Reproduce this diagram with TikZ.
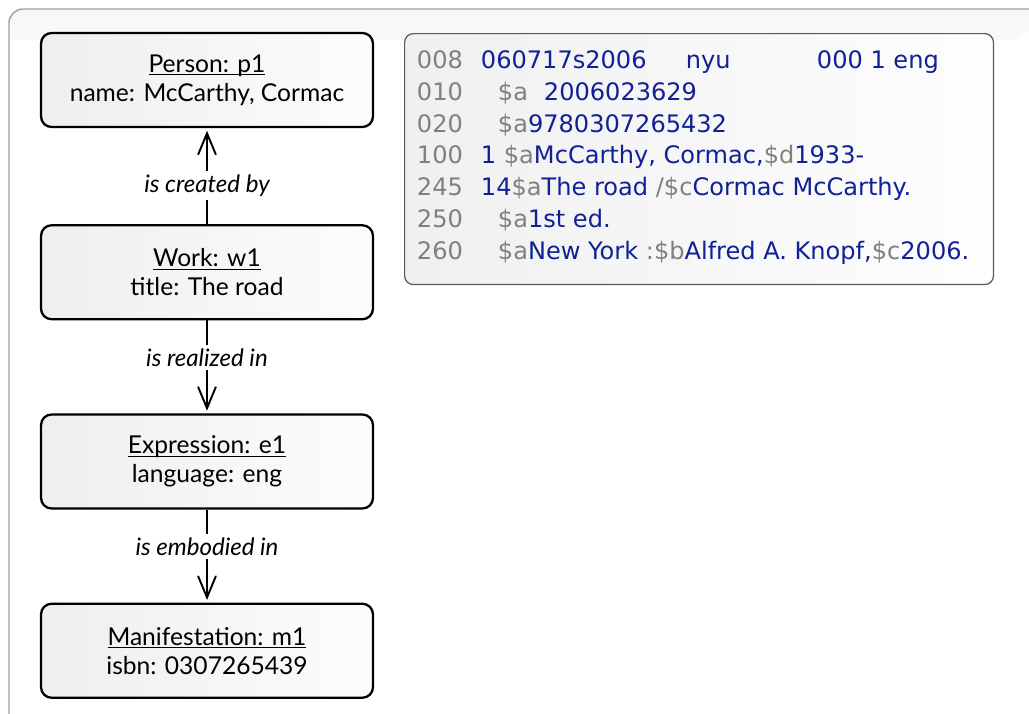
\documentclass[tikz,border=0pt]{standalone}
\usepackage{fontspec}
\setmainfont{Lato}
\newfontfamily\marcfont{DejaVu Sans}
\usetikzlibrary{shapes}
\usetikzlibrary{arrows.meta}
\usetikzlibrary{positioning}
\definecolor{marcblue}{RGB}{16,32,150}
\definecolor{marcgray}{RGB}{128,128,128}
\tikzset{
	frbr/.style = {rectangle, rounded corners=6pt, draw=black, line width=1.3pt,
		left color=gray!13, right color=gray!2, align=center,
		minimum width=6.64cm, minimum height=1.88cm, inner sep=0pt,
		font=\fontsize{14}{16.5}\selectfont},% entite FRBR
	rel/.style = {fill=white, inner sep=2pt, pos=0.4,
		font=\fontsize{13.7}{16}\selectfont\itshape},% relation
	tag/.style = {anchor=base west, inner sep=0pt, text=marcgray,
		font=\marcfont\fontsize{13.7}{16}\selectfont},% zone MARC
	val/.style = {anchor=base west, inner sep=0pt, text=marcblue,
		font=\marcfont\fontsize{13.7}{16}\selectfont}% donnees MARC
}
\newcommand{\subf}[1]{\textcolor{marcgray}{#1}}
\newcommand{\ul}[1]{\underline{\raisebox{0pt}[\height][0pt]{#1}}}

\begin{document}
\begin{tikzpicture}[x=0.02cm, y=-0.02cm, ->,
		>={Straight Barb[length=12pt, width=10pt, line cap=round]}, line width=1.1pt]
	\useasboundingbox (0,0) rectangle (1029,714);
	\clip (0,0) rectangle (1029,714);
	% cadre exterieur
	\draw[-, gray!75, line width=0.8pt, rounded corners=8pt,
		top color=gray!6, bottom color=white, middle color=white]
		(9,740) -- (9,9) -- (1060,9);
	\fill[white] (10,40) rectangle (1029,714);

	% chaine des entites
	\node[frbr] (person) at (207,80)
		{\ul{Person: p1}\\ name: McCarthy, Cormac};
	\node[frbr, below=1.92cm of person] (work)
		{\ul{Work: w1}\\ title: The road};
	\node[frbr, below=1.86cm of work] (expr)
		{\ul{Expression: e1}\\ language: eng};
	\node[frbr, below=1.86cm of expr] (manif)
		{\ul{Manifestation: m1}\\ isbn: 0307265439};

	\draw[shorten >=1.5pt] (work) -- node[rel] {is created by} (person);
	\draw[shorten >=1.5pt] (work) -- node[rel] {is realized in} (expr);
	\draw[shorten >=1.5pt] (expr) -- node[rel] {is embodied in} (manif);

	% notice MARC
	\node[draw=gray!70!black, line width=0.7pt, rounded corners=5pt,
		left color=gray!12, right color=gray!1, minimum width=11.78cm,
		minimum height=5.02cm, anchor=north west] (marc) at (404,33) {};
	\node[tag] (t008) at (416,68) {008};
	\node[val] (v008) at (480,68) {060717s2006};
	\node[val] (v008b) at (685,68) {nyu};
	\node[val] (v008c) at (816,68) {000 1 eng};
	\node[tag] (t010) at (416,100) {010};
	\node[tag] (s010) at (497,100) {\$a};
	\node[val] (v010) at (543,100) {2006023629};
	\node[tag] (t020) at (416,132) {020};
	\node[val] (v020) at (497,132) {\subf{\$a}9780307265432};
	\node[tag] (t100) at (416,163) {100};
	\node[val] (v100) at (480,163) {1 \subf{\$a}McCarthy, Cormac,\subf{\$d}1933-};
	\node[tag] (t245) at (416,195) {245};
	\node[val] (v245) at (480,195) {14\subf{\$a}The road \subf{/\$c}Cormac McCarthy.};
	\node[tag] (t250) at (416,227) {250};
	\node[val] (v250) at (497,227) {\subf{\$a}1st ed.};
	\node[tag] (t260) at (416,259) {260};
	\node[val] (v260) at (497,259) {\subf{\$a}New York \subf{:\$b}Alfred A. Knopf,\subf{\$c}2006.};
\end{tikzpicture}
\end{document}
